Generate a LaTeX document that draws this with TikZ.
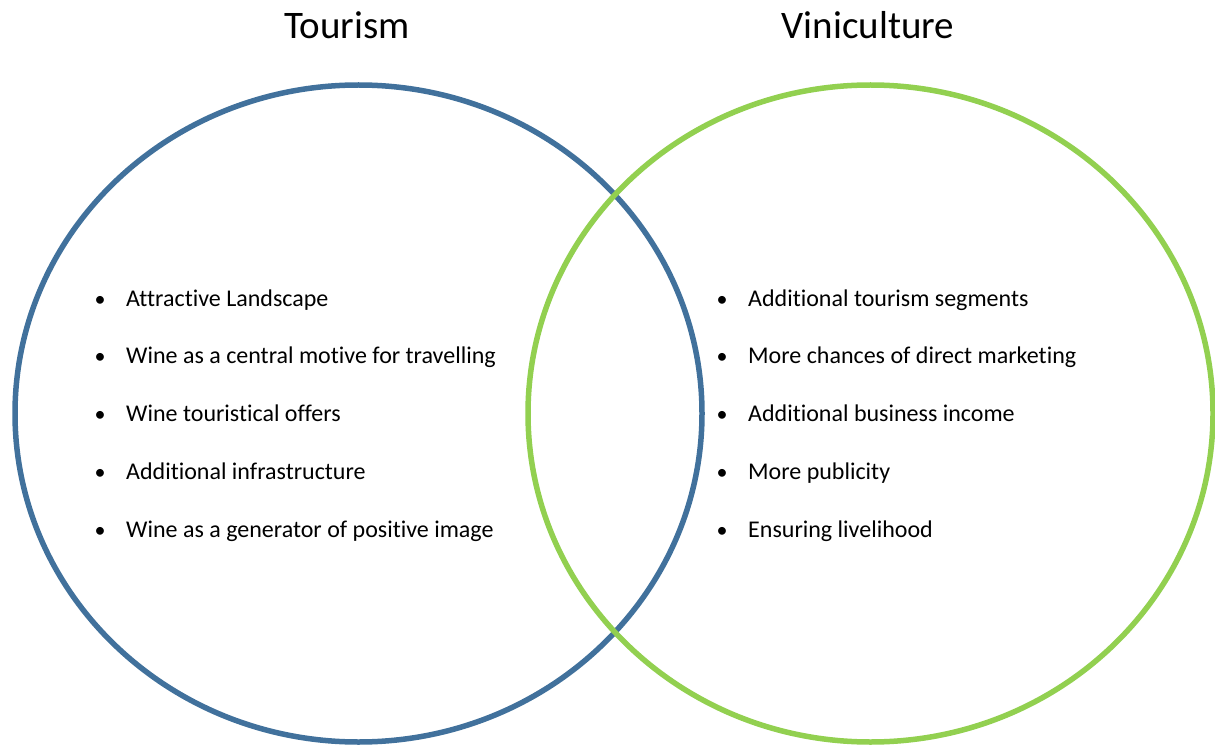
\documentclass[tikz,border=0pt]{standalone}
\usepackage{fontspec}
\setmainfont[Ligatures=NoCommon]{Carlito}
\definecolor{tblue}{RGB}{65,113,156}
\definecolor{vgreen}{RGB}{146,208,80}
\begin{document}
\begin{tikzpicture}[x=1pt,y=1pt,
  ring/.style={line width=5.5pt},
  title/.style={font=\fontsize{39}{46}\selectfont, anchor=base},
  item/.style={font=\fontsize{24}{28}\selectfont, anchor=base west, inner sep=0pt},
  dot/.style={font=\fontsize{22}{28}\selectfont, anchor=base, inner sep=0pt}]
\useasboundingbox (0,0) rectangle (1215,-746);
\draw[ring, tblue] (358.5,-413.5) ellipse [x radius=343.5, y radius=328.5];
\draw[ring, vgreen] (870.5,-413.5) ellipse [x radius=342.5, y radius=328.5];
\node[title] (t1) at (347,-39) {Tourism};
\node[title] (t2) at (868,-39) {Viniculture};
\foreach \i/\txt in {0/Attractive Landscape,1/Wine as a central motive for travelling,2/Wine touristical offers,3/Additional infrastructure,4/Wine as a generator of positive image}{
  \node[dot] (lb\i) at (100,{-306-57.75*\i}) {•};
  \node[item] (lt\i) at (126,{-306-57.75*\i}) {\txt};
}
\foreach \i/\txt in {0/Additional tourism segments,1/More chances of direct marketing,2/Additional business income,3/More publicity,4/Ensuring livelihood}{
  \node[dot] (rb\i) at (722,{-306-57.75*\i}) {•};
  \node[item] (rt\i) at (748,{-306-57.75*\i}) {\txt};
}
\end{tikzpicture}
\end{document}
